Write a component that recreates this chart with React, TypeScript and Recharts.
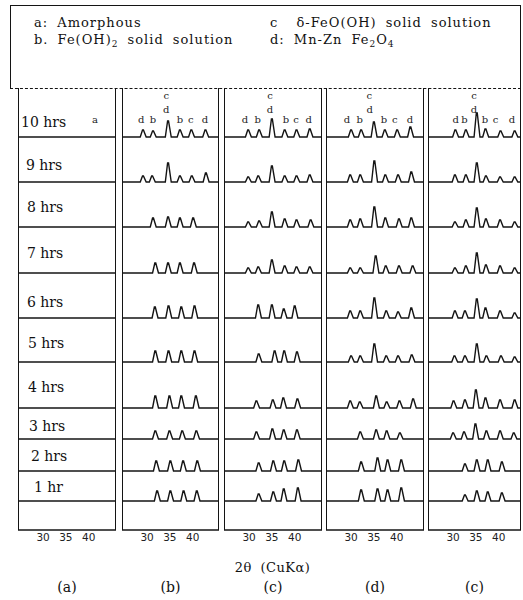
import { LineChart, Line, XAxis, YAxis, ReferenceDot } from 'recharts';

type Peak = [number, number]; // [2θ, intensity]
type Mark = [string, number, number]; // [letter, 2θ, tier]

const ROW_LABELS = ['10 hrs', '9 hrs', '8 hrs', '7 hrs', '6 hrs', '5 hrs', '4 hrs', '3 hrs', '2 hrs', '1 hr'];
const PANEL_LABELS = ['(a)', '(b)', '(c)', '(d)', '(c)'];
const X_TICKS = [30, 35, 40];

// (a) amorphous: no peaks at all
const PEAKS_A: Peak[][] = [[], [], [], [], [], [], [], [], [], []];

const PEAKS_B: Peak[][] = [
  [[29.1, 7], [31.3, 6], [34.6, 16], [37.2, 7], [39.7, 7], [42.8, 7]],
  [[29.1, 6], [31.1, 6], [34.6, 19], [37.2, 6], [39.8, 6], [42.9, 9]],
  [[31.3, 9], [34.6, 10], [37.2, 9], [40.1, 9]],
  [[31.8, 10], [34.6, 10], [37.2, 10], [40.3, 10]],
  [[31.7, 11], [34.7, 12], [37.5, 11], [40.4, 12]],
  [[31.8, 11], [34.7, 11], [37.5, 11], [40.4, 11]],
  [[31.8, 12], [34.9, 12], [37.5, 12], [40.7, 12]],
  [[31.8, 8], [34.9, 8], [37.7, 8], [40.8, 8]],
  [[32.0, 10], [35.1, 10], [37.9, 10], [41.0, 10]],
  [[32.2, 10], [35.1, 10], [38.0, 10], [40.9, 10]],
];

const PEAKS_C: Peak[][] = [
  [[29.8, 7], [32.2, 7], [35.0, 18], [37.8, 7], [40.4, 7], [43.3, 8]],
  [[29.8, 5], [32.0, 6], [35.0, 16], [37.8, 6], [40.4, 6], [43.3, 7]],
  [[29.8, 5], [32.2, 6], [35.0, 15], [37.8, 8], [40.4, 7], [43.5, 7]],
  [[29.8, 5], [32.0, 6], [35.0, 13], [37.8, 7], [40.4, 6], [43.3, 6]],
  [[32.0, 13], [35.0, 13], [37.6, 9], [40.0, 12]],
  [[32.1, 8], [35.6, 11], [37.7, 11], [40.5, 10]],
  [[31.6, 7], [35.2, 8], [37.5, 10], [40.6, 9]],
  [[31.6, 7], [35.1, 10], [37.6, 9], [40.5, 9]],
  [[32.1, 8], [35.3, 10], [37.7, 10], [40.8, 11]],
  [[32.1, 7], [35.3, 9], [37.6, 12], [40.7, 13]],
];

const PEAKS_D: Peak[][] = [
  [[30.0, 7], [32.2, 7], [35.0, 15], [37.4, 7], [40.1, 7], [43.0, 10]],
  [[29.8, 7], [32.0, 7], [35.1, 21], [37.5, 7], [40.3, 7], [43.2, 10]],
  [[29.8, 7], [32.0, 8], [35.1, 20], [37.5, 9], [40.5, 8], [43.2, 9]],
  [[29.8, 5], [32.0, 5], [35.4, 17], [37.6, 7], [40.5, 7], [43.5, 7]],
  [[29.8, 7], [32.0, 7], [35.1, 20], [37.7, 7], [40.3, 6], [43.2, 10]],
  [[30.0, 6], [32.0, 6], [35.1, 18], [37.7, 6], [40.3, 6], [43.3, 7]],
  [[29.8, 7], [31.9, 6], [35.5, 12], [37.8, 6], [40.6, 7], [43.6, 9]],
  [[32.0, 7], [35.5, 9], [37.8, 8], [40.7, 6]],
  [[32.2, 9], [35.8, 13], [38.0, 11], [41.0, 11]],
  [[32.2, 11], [35.8, 12], [38.0, 11], [41.0, 13]],
];

const PEAKS_E: Peak[][] = [
  [[30.5, 7], [32.8, 7], [35.2, 24], [37.1, 8], [40.4, 6], [43.5, 6]],
  [[30.4, 7], [32.8, 7], [35.2, 19], [37.2, 6], [40.3, 5], [43.5, 5]],
  [[30.4, 5], [32.8, 7], [35.2, 19], [37.2, 8], [40.3, 7], [43.5, 5]],
  [[30.4, 5], [32.8, 7], [35.2, 20], [37.2, 8], [40.3, 7], [43.5, 5]],
  [[30.4, 7], [32.6, 7], [35.2, 19], [37.1, 10], [40.3, 7], [43.5, 5]],
  [[30.3, 6], [32.6, 6], [35.2, 18], [37.3, 6], [40.5, 6], [43.5, 5]],
  [[30.1, 7], [32.6, 8], [35.0, 18], [37.1, 10], [40.3, 8], [43.5, 8]],
  [[30.0, 6], [32.4, 7], [34.9, 15], [37.3, 8], [40.3, 8], [43.3, 6]],
  [[32.6, 7], [35.2, 11], [37.6, 11], [40.7, 9]],
  [[32.6, 6], [35.2, 10], [37.6, 9], [40.7, 8]],
];

// phase letters over the 10 hrs traces
const MARKS_A: Mark[] = [['a', 41.4, 0]];
const MARKS_B: Mark[] = [['d', 28.7, 0], ['b', 31.3, 0], ['c', 34.2, 2], ['d', 34.2, 1], ['b', 37.2, 0], ['c', 39.6, 0], ['d', 42.7, 0]];
const MARKS_C: Mark[] = [['d', 29.1, 0], ['b', 31.9, 0], ['c', 34.6, 2], ['d', 34.6, 1], ['b', 38.1, 0], ['c', 40.3, 0], ['d', 43.1, 0]];
const MARKS_D: Mark[] = [['d', 29.1, 0], ['b', 31.9, 0], ['c', 34.0, 2], ['d', 34.1, 1], ['b', 37.2, 0], ['c', 39.6, 0], ['d', 42.9, 0]];
const MARKS_E: Mark[] = [['d', 30.6, 0], ['b', 32.5, 0], ['c', 34.6, 2], ['d', 34.6, 1], ['b', 37.0, 0], ['c', 39.3, 0], ['d', 42.9, 0]];

// layout
const TOP = 88;
const PLOT_H = 442;
const AXIS_H = 30;
const DEG_MIN = 24.5;
const PX_PER_DEG = 4.56;
const ROW_BASE = [393, 348, 303, 257, 212, 168, 122, 91, 59, 29];
const LABEL_LIFT = [15, 17, 20, 20, 16, 19, 21, 13, 15, 14];
const LABEL_X = [21, 26, 27, 27, 27, 28, 28, 29, 31, 34];
const TIER_LIFT = [18, 28, 42];
const INK = '#141414';
const SERIF = '"DejaVu Serif", serif';

const PANELS = [
  { left: 18, right: 116, peaks: PEAKS_A, marks: MARKS_A },
  { left: 122, right: 219, peaks: PEAKS_B, marks: MARKS_B },
  { left: 224, right: 322, peaks: PEAKS_C, marks: MARKS_C },
  { left: 326, right: 424, peaks: PEAKS_D, marks: MARKS_D },
  { left: 428, right: 521, peaks: PEAKS_E, marks: MARKS_E },
];

function traceData(peaks: Peak[], base: number, xMax: number) {
  const pts = [{ x: DEG_MIN, y: base }];
  peaks.forEach(([p, h]) => {
    pts.push({ x: p - 0.6, y: base }, { x: p - 0.1, y: base + h }, { x: p + 0.1, y: base + h }, { x: p + 0.7, y: base });
  });
  pts.push({ x: xMax, y: base });
  return pts;
}

function Panel({ idx }: { idx: number }) {
  const { left, right, peaks, marks } = PANELS[idx];
  const w = right - left;
  const xMax = DEG_MIN + w / PX_PER_DEG;
  return (
    <div style={{ position: 'absolute', left, top: TOP }}>
      <LineChart width={w} height={PLOT_H + AXIS_H} margin={{ top: 0, right: 0, bottom: 0, left: 0 }}>
        <XAxis
          type="number"
          dataKey="x"
          domain={[DEG_MIN, xMax]}
          ticks={X_TICKS}
          height={AXIS_H}
          tickLine={false}
          tickMargin={0}
          axisLine={{ stroke: INK, strokeWidth: 1.5 }}
          tick={{ fill: '#222', fontSize: 10.5, fontFamily: '"DejaVu Sans", sans-serif', dy: -2 }}
        />
        <YAxis type="number" domain={[0, PLOT_H]} hide />
        {peaks.map((row, r) => (
          <Line
            key={r}
            data={traceData(row, ROW_BASE[r], xMax)}
            dataKey="y"
            type="linear"
            stroke={INK}
            strokeWidth={1.4}
            dot={false}
            isAnimationActive={false}
          />
        ))}
        {marks.map(([letter, x, tier], i) => (
          <ReferenceDot
            key={'m' + i}
            x={x}
            y={ROW_BASE[0] + TIER_LIFT[tier]}
            shape={(p: any) => (
              <text x={p.cx} y={p.cy} textAnchor="middle" dominantBaseline="central" fontSize={10} fontFamily={SERIF} fill="#222">
                {letter}
              </text>
            )}
          />
        ))}
        {idx === 0 &&
          ROW_LABELS.map((lab, r) => (
            <ReferenceDot
              key={'l' + r}
              x={DEG_MIN + (LABEL_X[r] - left) / PX_PER_DEG}
              y={ROW_BASE[r] + LABEL_LIFT[r]}
              shape={(p: any) => (
                <text x={p.cx} y={p.cy} textAnchor="start" dominantBaseline="central" fontSize={14} fontFamily={SERIF} fill="#111">
                  {lab}
                </text>
              )}
            />
          ))}
      </LineChart>
      <div
        style={{
          position: 'absolute',
          left: 0,
          top: 0,
          width: w,
          height: PLOT_H,
          boxSizing: 'border-box',
          borderLeft: `1.5px solid ${INK}`,
          borderRight: `1.5px solid ${INK}`,
          pointerEvents: 'none',
        }}
      />
    </div>
  );
}

export default function App() {
  const txt: React.CSSProperties = { position: 'absolute', fontFamily: SERIF, fontSize: 13, color: '#111', letterSpacing: 1, wordSpacing: 4, whiteSpace: 'nowrap', lineHeight: '16px' };
  const sub: React.CSSProperties = { fontSize: 9, verticalAlign: -3 };
  return (
    <div style={{ position: 'absolute', left: 0, top: 0, width: 523, height: 600, background: '#fff', overflow: 'hidden' }}>
      <div style={{ position: 'absolute', left: 10, top: 5, width: 511, height: TOP - 5, boxSizing: 'border-box', border: `1px solid ${INK}`, borderBottom: 'none' }} />
      <div style={{ position: 'absolute', left: 10, top: TOP, width: 511, borderTop: `1px dashed ${INK}` }} />
      <div style={{ ...txt, left: 34, top: 15 }}>a: Amorphous</div>
      <div style={{ ...txt, left: 34, top: 32 }}>
        b. Fe(OH)<span style={sub}>2</span> solid solution
      </div>
      <div style={{ ...txt, left: 270, top: 15 }}>c &nbsp;δ-FeO(OH) solid solution</div>
      <div style={{ ...txt, left: 270, top: 32 }}>
        d: Mn-Zn Fe<span style={sub}>2</span>O<span style={sub}>4</span>
      </div>
      {PANELS.map((_, i) => (
        <Panel key={i} idx={i} />
      ))}
      <div style={{ ...txt, left: 0, width: 545, textAlign: 'center', top: 560, letterSpacing: 0.5 }}>2θ (CuKα)</div>
      {PANELS.map((p, i) => (
        <div key={'c' + i} style={{ ...txt, fontSize: 14, left: (p.left + p.right) / 2 - 30, width: 60, textAlign: 'center', top: 579, letterSpacing: 0 }}>
          {PANEL_LABELS[i]}
        </div>
      ))}
    </div>
  );
}
